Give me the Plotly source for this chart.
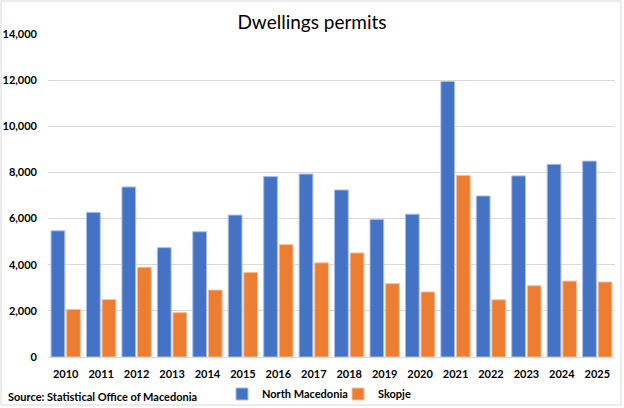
import plotly.graph_objects as go

years = ["2010", "2011", "2012", "2013", "2014", "2015", "2016", "2017",
         "2018", "2019", "2020", "2021", "2022", "2023", "2024", "2025"]
north_macedonia = [5470, 6270, 7370, 4740, 5430, 6150, 7820, 7930,
                   7240, 5960, 6190, 11940, 6980, 7850, 8350, 8490]
skopje = [2060, 2490, 3890, 1920, 2900, 3660, 4870, 4080,
          4510, 3180, 2820, 7870, 2480, 3090, 3290, 3250]
y_ticks = [0, 2000, 4000, 6000, 8000, 10000, 12000, 14000]

FONT = "Lato"

fig = go.Figure()
fig.add_trace(go.Bar(
    x=years, y=north_macedonia, name="North Macedonia",
    marker=dict(color="#4472C4", line=dict(color="#A9BEE6", width=1)),
))
fig.add_trace(go.Bar(
    x=years, y=skopje, name="Skopje",
    marker=dict(color="#ED7D31", line=dict(color="#F6BE98", width=1)),
))

fig.update_layout(
    width=624, height=408,
    margin=dict(l=48, r=9, t=34, b=51, autoexpand=False),
    paper_bgcolor="white", plot_bgcolor="white",
    barmode="group", bargap=0.12, bargroupgap=0.12,
    font=dict(family=FONT, color="#000000"),
    title=dict(text="Dwellings permits", x=0.5, xanchor="center",
               y=1 - 22 / 408, yanchor="middle",
               font=dict(family=FONT, size=19, color="#000000")),
    xaxis=dict(
        type="category", showgrid=False, zeroline=False, showline=False,
        ticks="", tickfont=dict(family=FONT, size=11, color="#000000", weight="bold"),
        ticklabelstandoff=9,
    ),
    yaxis=dict(
        range=[0, 14000], tickvals=y_ticks, tickformat=",d",
        showgrid=True, gridcolor="#D9D9D9", gridwidth=1,
        zeroline=True, zerolinecolor="#D9D9D9", zerolinewidth=1,
        showline=False, ticks="",
        tickfont=dict(family=FONT, size=11, color="#000000", weight="bold"),
        ticklabelstandoff=10,
    ),
    legend=dict(
        orientation="h", x=(222 - 48) / 567, xanchor="left",
        y=(357 - 394) / 323, yanchor="middle",
        font=dict(family=FONT, size=11, color="#000000", weight="bold"),
        itemwidth=30, bgcolor="rgba(0,0,0,0)",
        entrywidth=71, entrywidthmode="pixels",
    ),
    showlegend=True,
)

fig.add_annotation(
    text="Source: Statistical Office of Macedonia",
    xref="paper", yref="paper", x=(6 - 48) / 567, y=(357 - 396) / 323,
    xanchor="left", yanchor="middle", showarrow=False,
    font=dict(family=FONT, size=11, color="#000000", weight="bold"),
)

fig.add_shape(
    type="rect", xref="paper", yref="paper",
    x0=(1 - 48) / 567, x1=(621 - 48) / 567,
    y0=(357 - 405) / 323, y1=(357 - 1) / 323,
    line=dict(color="#D9D9D9", width=1), fillcolor="rgba(0,0,0,0)",
    layer="below",
)

fig.write_html("out.html")
